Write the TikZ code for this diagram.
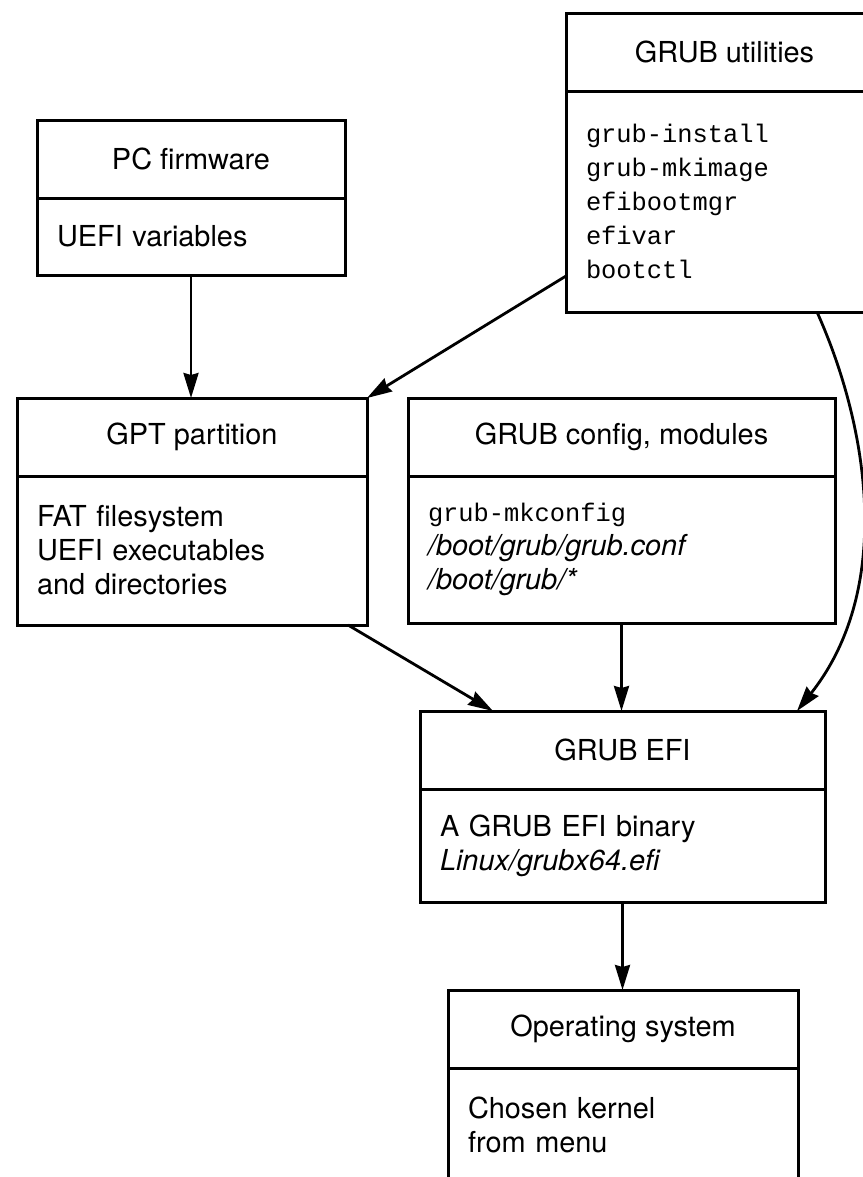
\documentclass[tikz,border=0pt]{standalone}
\usepackage{fontspec}
\setmainfont{TeX Gyre Heros}
\setmonofont{Liberation Mono}
\usetikzlibrary{positioning,arrows.meta}

\newcommand\cmdtext[1]{{\fontsize{25.5}{34}\selectfont\ttfamily #1}}

\tikzset{
  boxhead/.style={draw, line width=3bp, outer sep=0pt, inner sep=0pt, anchor=north west,
    minimum height=78bp, font=\fontsize{29}{34}\selectfont},
  boxbody/.style={draw, line width=3bp, outer sep=0pt, inner xsep=20bp, inner ysep=0pt,
    align=left, font=\fontsize{29}{34}\selectfont},
  arr/.style={line width=2.8bp, -{Stealth[length=25bp,width=15bp,inset=2bp]}}
}

\begin{document}
\begin{tikzpicture}[x=1bp,y=-1bp]
\useasboundingbox (0,0) rectangle (863,1177);
\clip (0,0) rectangle (863,1177);
\fill[white] (0,0) rectangle (863,1177);

% GRUB utilities (cut by the right edge)
\node[boxhead, minimum width=317bp] (utilhead) at (566,13) {GRUB utilities};
\node[boxbody, text width=277bp, minimum height=221bp, below=0pt of utilhead] (utilbody)
  {\cmdtext{grub-install}\\ \cmdtext{grub-mkimage}\\ \cmdtext{efibootmgr}\\ \cmdtext{efivar}\\ \cmdtext{bootctl}};

% PC firmware
\node[boxhead, minimum width=308bp] (fwhead) at (37,120) {PC firmware};
\node[boxbody, text width=268bp, minimum height=77bp, below=0pt of fwhead] (fwbody)
  {UEFI variables};

% GPT partition
\node[boxhead, minimum width=350bp] (gpthead) at (17,398) {GPT partition};
\node[boxbody, text width=310bp, minimum height=149bp, below=0pt of gpthead] (gptbody)
  {FAT filesystem\\ UEFI executables\\ and directories};

% GRUB config
\node[boxhead, minimum width=427bp] (cfghead) at (408,398) {GRUB config, modules};
\node[boxbody, text width=387bp, minimum height=147bp, below=0pt of cfghead] (cfgbody)
  {\cmdtext{grub-mkconfig}\\ \textit{/boot/grub/grub.conf}\\ \textit{/boot/grub/*}};

% GRUB EFI
\node[boxhead, minimum width=405bp] (efihead) at (420,711) {GRUB EFI};
\node[boxbody, text width=365bp, minimum height=113bp, below=0pt of efihead] (efibody)
  {A GRUB EFI binary\\ \textit{Linux/grubx64.efi}};

% Operating system (cut by the bottom edge)
\node[boxhead, minimum width=350bp] (oshead) at (448,990) {Operating system};
\node[boxbody, text width=310bp, minimum height=114bp, below=0pt of oshead] (osbody)
  {Chosen kernel\\ from menu};

% arrows
\draw[arr] (fwbody.south) -- (fwbody.south |- gpthead.north);
\draw[arr] ([yshift=36bp]utilbody.south west) -- (gpthead.north east);
\draw[arr] ([xshift=-19bp]gptbody.south east) -- ([xshift=73bp]efihead.north west);
\draw[arr] (cfgbody.south) -- (cfgbody.south |- efihead.north);
\draw[arr] ([xshift=251bp]utilbody.south west) .. controls (870,430) and (893,590) .. ([xshift=-28bp]efihead.north east);
\draw[arr] (efibody.south) -- (efibody.south |- oshead.north);
\end{tikzpicture}
\end{document}
